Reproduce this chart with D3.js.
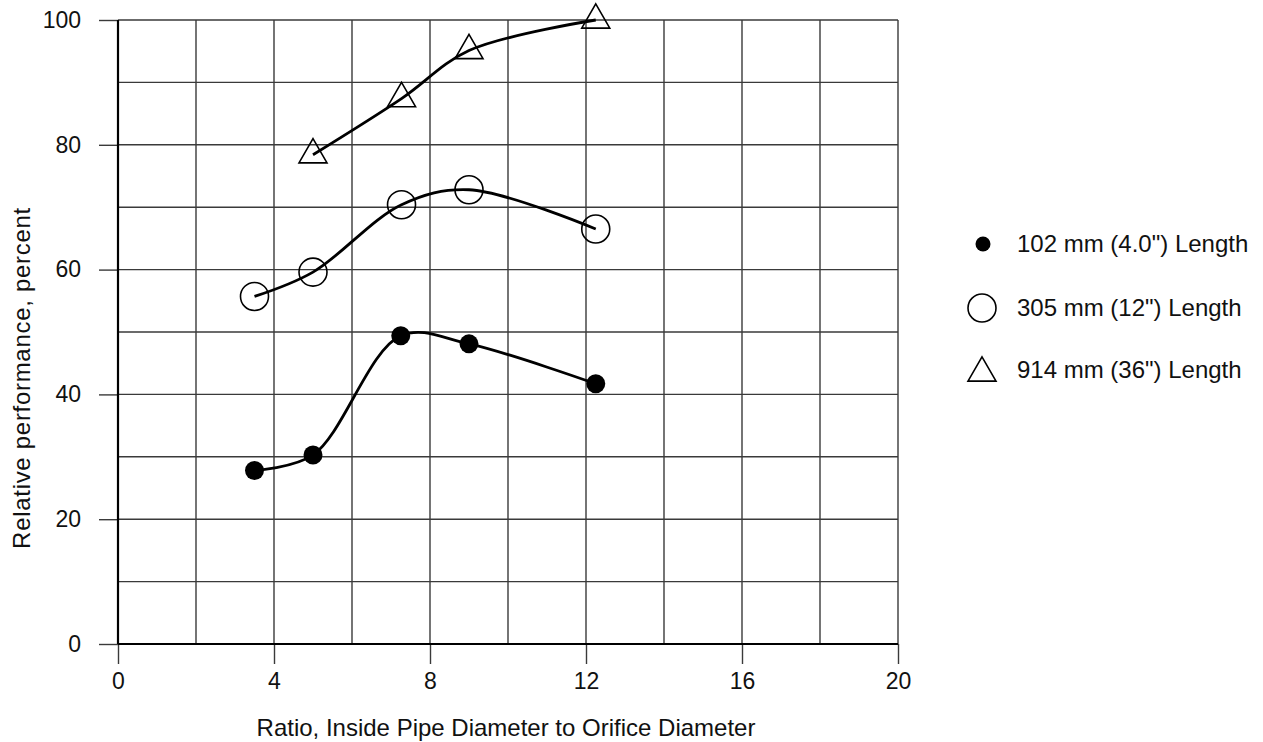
<!DOCTYPE html>
<html>
<head>
<meta charset="utf-8">
<script src="https://cdn.jsdelivr.net/npm/d3@7"></script>
<style>
  body { margin: 0; background: #fff; }
  svg text { font-family: "Liberation Sans", Arial, sans-serif; fill: #111; }
</style>
</head>
<body>
<div id="chart"></div>
<script>
// values
const xTicks = [0, 4, 8, 12, 16, 20];
const yTicks = [0, 20, 40, 60, 80, 100];
const xGrid = [0, 2, 4, 6, 8, 10, 12, 14, 16, 18, 20];
const yGrid = [0, 10, 20, 30, 40, 50, 60, 70, 80, 90, 100];

const ratio102 = [3.5, 5.0, 7.25, 9.0, 12.25];
const perf102 = [27.8, 30.3, 49.4, 48.1, 41.7];
const ratio305 = [3.5, 5.0, 7.27, 9.0, 12.25];
const perf305 = [55.7, 59.6, 70.4, 72.8, 66.5];
const ratio914 = [5.0, 7.27, 9.0, 12.25];
const perf914 = [78.4, 87.4, 95.1, 100];

const legendLabels = ['102 mm (4.0") Length', '305 mm (12") Length', '914 mm (36") Length'];

const width = 1263, height = 742;
const margin = {left: 118, right: 365, top: 20, bottom: 98};

const svg = d3.select("#chart").append("svg")
  .attr("width", width)
  .attr("height", height);

const x = d3.scaleLinear().domain([0, 20]).range([margin.left, width - margin.right]);
const y = d3.scaleLinear().domain([0, 100]).range([height - margin.bottom, margin.top]);

// grid
svg.append("g").selectAll("line").data(xGrid).enter().append("line")
  .attr("x1", d => x(d)).attr("x2", d => x(d))
  .attr("y1", y(100)).attr("y2", y(0))
  .attr("stroke", "#3a3a3a").attr("stroke-width", 1.4);
svg.append("g").selectAll("line").data(yGrid).enter().append("line")
  .attr("x1", x(0)).attr("x2", x(20))
  .attr("y1", d => y(d)).attr("y2", d => y(d))
  .attr("stroke", "#3a3a3a").attr("stroke-width", 1.4);

// axes with outward ticks
const xAxis = svg.append("g")
  .attr("transform", "translate(0," + y(0) + ")")
  .call(d3.axisBottom(x).tickValues(xTicks).tickSize(20).tickSizeOuter(0).tickPadding(9).tickFormat(d3.format("d")));
const yAxis = svg.append("g")
  .attr("transform", "translate(" + x(0) + ",0)")
  .call(d3.axisLeft(y).tickValues(yTicks).tickSize(19).tickSizeOuter(0).tickPadding(18).tickFormat(d3.format("d")));
[xAxis, yAxis].forEach(a => {
  a.select(".domain").remove();
  a.selectAll(".tick line").attr("stroke", "#3a3a3a").attr("stroke-width", 1.4);
  a.selectAll(".tick text").style("font-size", "23px").attr("fill", "#111");
});

// main axis lines
svg.append("line")
  .attr("x1", x(0)).attr("x2", x(0)).attr("y1", y(100)).attr("y2", y(0))
  .attr("stroke", "#000").attr("stroke-width", 2.2);
svg.append("line")
  .attr("x1", x(0)).attr("x2", x(20)).attr("y1", y(0)).attr("y2", y(0))
  .attr("stroke", "#000").attr("stroke-width", 2.2);

// axis titles
svg.append("text")
  .attr("x", 506).attr("y", 736)
  .attr("text-anchor", "middle")
  .style("font-size", "24px")
  .text("Ratio, Inside Pipe Diameter to Orifice Diameter");
svg.append("text")
  .attr("transform", "translate(30,378) rotate(-90)")
  .attr("text-anchor", "middle")
  .style("font-size", "24px")
  .style("letter-spacing", "0.7px")
  .text("Relative performance, percent");

// series
const line = d3.line()
  .x(d => x(d[0]))
  .y(d => y(d[1]))
  .curve(d3.curveCatmullRom.alpha(0.5));

const s102 = d3.zip(ratio102, perf102);
const s305 = d3.zip(ratio305, perf305);
const s914 = d3.zip(ratio914, perf914);

[s102, s305, s914].forEach(s => {
  svg.append("path")
    .attr("d", line(s))
    .attr("fill", "none")
    .attr("stroke", "#000")
    .attr("stroke-width", 2.8);
});

svg.append("g").selectAll("circle").data(s102).enter().append("circle")
  .attr("cx", d => x(d[0])).attr("cy", d => y(d[1]))
  .attr("r", 9.5).attr("fill", "#000");

svg.append("g").selectAll("circle").data(s305).enter().append("circle")
  .attr("cx", d => x(d[0])).attr("cy", d => y(d[1]))
  .attr("r", 14).attr("fill", "none").attr("stroke", "#000").attr("stroke-width", 1.6);

const tri = d3.symbol().type(d3.symbolTriangle).size(340);
svg.append("g").selectAll("path").data(s914).enter().append("path")
  .attr("transform", d => "translate(" + x(d[0]) + "," + y(d[1]) + ")")
  .attr("d", tri)
  .attr("fill", "none").attr("stroke", "#000").attr("stroke-width", 1.6);

// legend
const legendY = [244, 308, 370];
const lg = svg.append("g");
lg.append("circle").attr("cx", 983).attr("cy", legendY[0]).attr("r", 7.5).attr("fill", "#000");
lg.append("circle").attr("cx", 982).attr("cy", legendY[1]).attr("r", 14)
  .attr("fill", "none").attr("stroke", "#000").attr("stroke-width", 1.6);
lg.append("path").attr("transform", "translate(982," + (legendY[2] + 3) + ")")
  .attr("d", tri).attr("fill", "none").attr("stroke", "#000").attr("stroke-width", 1.6);
lg.selectAll("text").data(legendLabels).enter().append("text")
  .attr("x", 1017).attr("y", (d, i) => legendY[i])
  .attr("dy", "0.35em")
  .style("font-size", "24px")
  .text(d => d);
</script>
</body>
</html>
